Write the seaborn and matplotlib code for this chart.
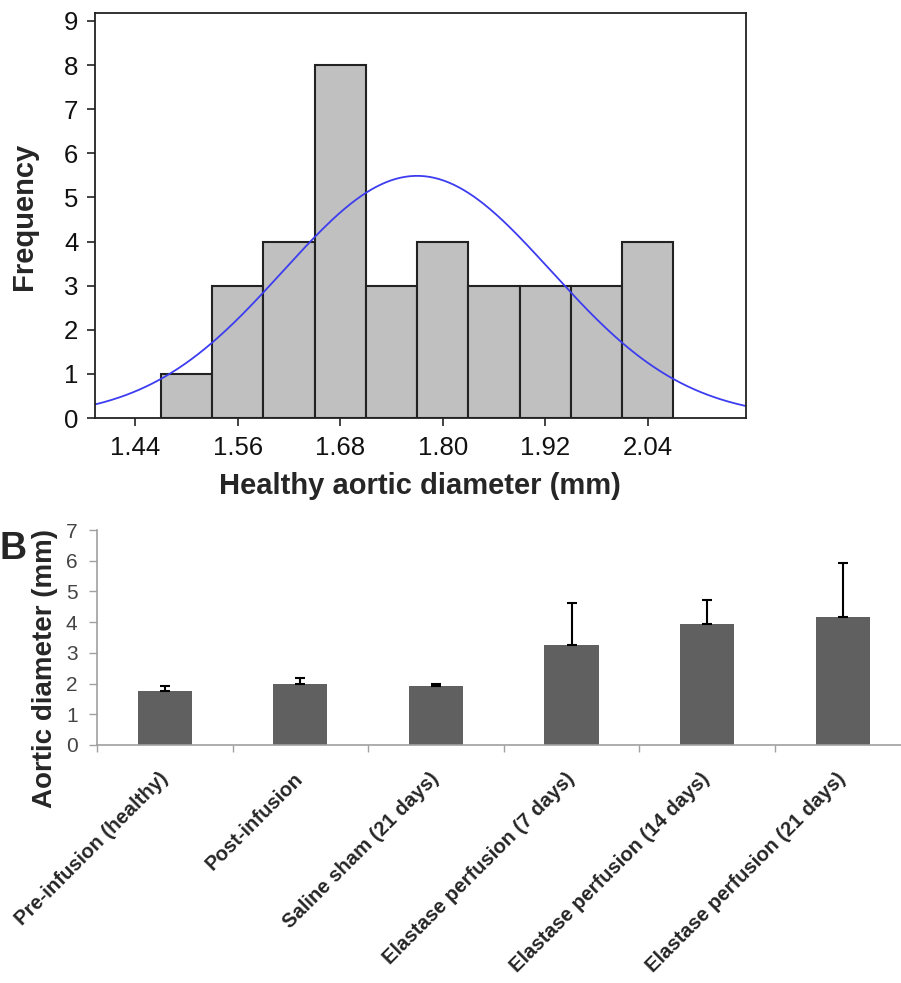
import numpy as np
import matplotlib
matplotlib.use("Agg")
import matplotlib.pyplot as plt
import seaborn as sns

# ---------------- data ----------------
bin_centers = [1.50, 1.56, 1.62, 1.68, 1.74, 1.80, 1.86, 1.92, 1.98, 2.04]
bin_counts = [1, 3, 4, 8, 3, 4, 3, 3, 3, 4]
bin_width = 0.06
fit_mean = 1.77
fit_sd = 0.157
hist_xticks = [1.44, 1.56, 1.68, 1.80, 1.92, 2.04]
freq_ticks = [0, 1, 2, 3, 4, 5, 6, 7, 8, 9]

groups = ["Pre-infusion (healthy)", "Post-infusion", "Saline sham (21 days)",
          "Elastase perfusion (7 days)", "Elastase perfusion (14 days)",
          "Elastase perfusion (21 days)"]
group_means = [1.76, 1.99, 1.93, 3.25, 3.95, 4.16]
group_err = [0.16, 0.20, 0.04, 1.38, 0.77, 1.78]
diam_ticks = [0, 1, 2, 3, 4, 5, 6, 7]

# ---------------- style ----------------
sns.set_style("ticks")
plt.rcParams["font.family"] = ["Liberation Sans", "DejaVu Sans"]

W, H = 901, 983
fig = plt.figure(figsize=(W / 100, H / 100), dpi=100)

# ---------------- panel A: histogram ----------------
ax1 = fig.add_axes([95 / W, 1 - 418 / H, (746 - 95) / W, (418 - 13) / H])
edges = [c - bin_width / 2 for c in bin_centers] + [bin_centers[-1] + bin_width / 2]
sns.histplot(x=bin_centers, weights=bin_counts, bins=edges, color="#c0c0c0",
             edgecolor="#222222", linewidth=1.5, alpha=1, ax=ax1)

xlo, xhi = 1.393, 2.155
n_total = sum(bin_counts)
xs = np.linspace(xlo, xhi, 400)
ys = n_total * bin_width * np.exp(-0.5 * ((xs - fit_mean) / fit_sd) ** 2) / (fit_sd * np.sqrt(2 * np.pi))
sns.lineplot(x=xs, y=ys, color="#3c3cf0", linewidth=1.3, ax=ax1)

ax1.set_xticks(hist_xticks)
ax1.set_xticklabels([f"{t:.2f}" for t in hist_xticks])
ax1.set_yticks(freq_ticks)
ax1.set_xlim(xlo, xhi)
ax1.set_ylim(0, 9.18)
ax1.set_xlabel("")
ax1.set_ylabel("")
for s in ax1.spines.values():
    s.set_visible(True)
    s.set_color("#222222")
    s.set_linewidth(1.3)
ax1.tick_params(axis="both", direction="out", length=6, width=1.2, color="#222222",
                labelsize=18.5, labelcolor="#111111")
ax1.tick_params(axis="x", pad=7)
ax1.tick_params(axis="y", pad=6)

fig.text(420 / W, 1 - 486 / H, "Healthy aortic diameter (mm)", ha="center", va="center",
         fontsize=21, fontweight="bold")
fig.text(24 / W, 1 - 216 / H, "Frequency", ha="center", va="center", rotation=90,
         fontsize=21, fontweight="bold")

# ---------------- panel B: bar chart ----------------
ax2 = fig.add_axes([97 / W, 1 - 745 / H, (W - 97) / W, (745 - 530) / H])
sns.barplot(x=groups, y=group_means, color="#606060", saturation=1, width=0.4,
            linewidth=0, ax=ax2)
ax2.errorbar(np.arange(len(groups)), group_means,
             yerr=[np.zeros(len(groups)), group_err], fmt="none",
             ecolor="black", elinewidth=1.5, capsize=3.6, capthick=1.5)
ax2.set_xticks(np.arange(-0.5, len(groups) - 0.5, 1.0), minor=True)
ax2.set_xticks(np.arange(len(groups)))
ax2.set_xticklabels(groups, rotation=45, ha="right", va="center",
                    rotation_mode="anchor", fontsize=14.6, fontweight="bold")
ax2.set_yticks(diam_ticks)
ax2.set_xlim(-0.5, 5.43)
ax2.set_ylim(0, 7)
ax2.set_xlabel("")
ax2.set_ylabel("")
for side in ["top", "right"]:
    ax2.spines[side].set_visible(False)
for side in ["left", "bottom"]:
    ax2.spines[side].set_color("#a0a0a0")
    ax2.spines[side].set_linewidth(1.2)
ax2.tick_params(axis="x", which="minor", direction="out", length=5, width=1.0, color="#a0a0a0")
ax2.tick_params(axis="x", which="major", length=0, pad=22)
ax2.tick_params(axis="y", direction="out", length=6, width=1.0, color="#a0a0a0",
                labelsize=15, labelcolor="#444444", pad=8)

fig.text(45 / W, 1 - 668 / H, "Aortic diameter (mm)", ha="center", va="center",
         rotation=90, fontsize=20, fontweight="bold")
fig.text(0 / W, 1 - 549 / H, "B", ha="left", va="center", fontsize=27, fontweight="bold")

fig.savefig("out.png", dpi=100)
